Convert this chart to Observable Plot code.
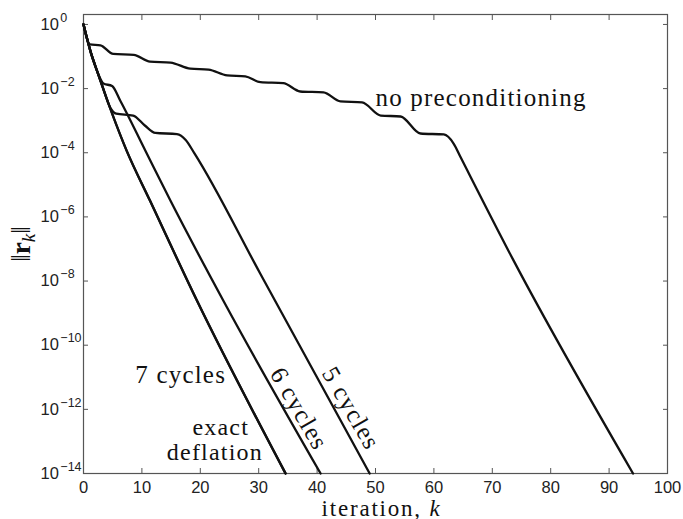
<!DOCTYPE html>
<html><head><meta charset="utf-8">
<script src="https://cdn.jsdelivr.net/npm/d3@7"></script>
<script src="https://cdn.jsdelivr.net/npm/@observablehq/plot@0.6"></script>
<style>body{margin:0;background:#fff}</style>
</head><body><div id="chart"></div>
<script>
// x ticks and y tick exponents
const xTicks = [0, 10, 20, 30, 40, 50, 60, 70, 80, 90, 100];
const yTickExps = [0, -2, -4, -6, -8, -10, -12, -14];

// residual norms, stored as log10 values
const noPrecK = [0, 1.1, 2.9, 5.1, 8.6, 11.4, 14.9, 18.3, 21.4, 24.6, 27.7, 30.3, 34.2, 37.1, 41.1, 44.0, 47.7, 50.9, 54.3, 57.7, 61.7, 63.4, 64.6, 73.7, 94.1];
const noPrecE = [0, -0.62, -0.65, -0.92, -0.95, -1.16, -1.19, -1.38, -1.41, -1.59, -1.62, -1.80, -1.83, -2.09, -2.12, -2.40, -2.43, -2.84, -2.87, -3.40, -3.43, -3.72, -4.15, -7.38, -14];

const cyc5K = [0, 1.3, 2.0, 3.2, 4.6, 5.6, 8.5, 10.5, 12.3, 16.0, 17.5, 19.0, 30.3, 49.0];
const cyc5E = [0, -0.9, -1.28, -1.9, -2.6, -2.78, -2.84, -3.15, -3.38, -3.42, -3.6, -4.02, -7.78, -14];

const cyc6K = [0, 1.3, 2.3, 3.4, 4.9, 6.3, 10.6, 14.9, 24.0, 40.6];
const cyc6E = [0, -0.9, -1.44, -1.84, -1.92, -2.38, -3.94, -5.5, -8.63, -14];

const cyc7K = [0, 1.3, 2.0, 7.4, 11.4, 19.4, 34.6];
const cyc7E = [0, -0.9, -1.28, -3.94, -5.5, -8.6, -14];

const exactK = [0, 1.3, 2.0, 7.4, 11.4, 19.4, 34.6];
const exactE = [0, -0.9, -1.28, -3.94, -5.5, -8.6, -14];

const series = [
  {name: "no preconditioning", k: noPrecK, e: noPrecE},
  {name: "5 cycles", k: cyc5K, e: cyc5E},
  {name: "6 cycles", k: cyc6K, e: cyc6E},
  {name: "7 cycles", k: cyc7K, e: cyc7E},
  {name: "exact deflation", k: exactK, e: exactE}
];
const rows = series.flatMap(s => s.k.map((k, i) => ({name: s.name, k, r: Math.pow(10, s.e[i])})));

// annotations
const flatLabels = ["no preconditioning", "7 cycles"];
const flatK = [50.0, 8.86];
const flatE = [-2.53, -11.19];
const midLabels = ["exact", "deflation"];
const midK = [23.5, 22.5];
const midE = [-12.8, -13.59];
const rotLabels = ["6 cycles", "5 cycles"];
const rotK = [36.9, 45.8];
const rotE = [-11.98, -11.97];

const serif = "'Liberation Serif', 'Times New Roman', serif";
const axisColor = "#555";

const plot = Plot.plot({
  width: 683, height: 519,
  marginLeft: 83, marginRight: 16, marginTop: 14, marginBottom: 46,
  x: {domain: [0, 100]},
  y: {type: "log", domain: [1e-14, Math.pow(10, 0.31)]},
  style: {fontFamily: "'Liberation Sans', Arial, sans-serif", fontSize: "16.5px", background: "#fff", color: "#222"},
  marks: [
    Plot.axisX({anchor: "bottom", ticks: xTicks, tickSize: -5, tickPadding: 13, stroke: axisColor, tickFormat: d => String(d), label: null}),
    Plot.axisX({anchor: "top", ticks: xTicks, tickSize: -5, stroke: axisColor, tickFormat: () => "", label: null}),
    Plot.axisY({anchor: "left", ticks: yTickExps.map(e => Math.pow(10, e)), tickSize: -5, stroke: axisColor, tickFormat: () => "", label: null}),
    Plot.axisY({anchor: "right", ticks: yTickExps.map(e => Math.pow(10, e)), tickSize: -5, stroke: axisColor, tickFormat: () => "", label: null}),
    Plot.text(yTickExps, {y: e => Math.pow(10, e), frameAnchor: "left", dx: -43, textAnchor: "start", text: e => "10^" + e, fontSize: 16.5}),
    Plot.frame({stroke: axisColor, strokeWidth: 1.2}),
    Plot.line(rows, {x: "k", y: "r", z: "name", stroke: "#111", strokeWidth: 2.3, curve: "monotone-x"}),
    Plot.text(flatLabels, {x: (d, i) => flatK[i], y: (d, i) => Math.pow(10, flatE[i]), text: d => d, textAnchor: "start", lineAnchor: "bottom", fontFamily: serif, fontSize: 25, fill: "#111"}),
    Plot.text(midLabels, {x: (d, i) => midK[i], y: (d, i) => Math.pow(10, midE[i]), text: d => d, textAnchor: "middle", lineAnchor: "bottom", fontFamily: serif, fontSize: 24, fill: "#111"}),
    Plot.text(rotLabels, {x: (d, i) => rotK[i], y: (d, i) => Math.pow(10, rotE[i]), text: d => d, textAnchor: "middle", lineAnchor: "middle", rotate: 60, fontFamily: serif, fontSize: 25, fill: "#111"}),
    Plot.text(["iteration, "], {frameAnchor: "bottom", dx: 6, dy: 42, lineAnchor: "bottom", textAnchor: "middle", fontFamily: serif, fontSize: 23, fill: "#111"}),
    Plot.text(["YLABEL"], {frameAnchor: "left", dx: -62, rotate: -90, textAnchor: "middle", lineAnchor: "middle", fontFamily: serif, fontSize: 27, fill: "#111"})
  ]
});

const svg = d3.select(plot);
svg.selectAll("text").each(function() {
  const t = this.textContent;
  const el = d3.select(this);
  if (/^10\^/.test(t)) {
    const exp = t.slice(3).replace("-", "\u2212");
    el.text("10");
    el.append("tspan").attr("dx", 1.5).attr("dy", -8).attr("font-size", 12.5).text(exp);
  } else if (t === "iteration, ") {
    el.attr("letter-spacing", "1.8px");
    el.append("tspan").attr("font-style", "italic").text("k");
  } else if (t === "YLABEL") {
    el.text("");
    el.append("tspan").text("\u2016");
    el.append("tspan").attr("font-weight", "bold").text("r");
    el.append("tspan").attr("font-style", "italic").attr("font-size", 19).attr("dy", 5).text("k");
    el.append("tspan").attr("dy", -5).text("\u2016");
  } else if (flatLabels.includes(t) || midLabels.includes(t) || rotLabels.includes(t)) {
    el.attr("letter-spacing", "1.2px");
  }
});

document.getElementById("chart").appendChild(plot);
</script>
</body></html>
